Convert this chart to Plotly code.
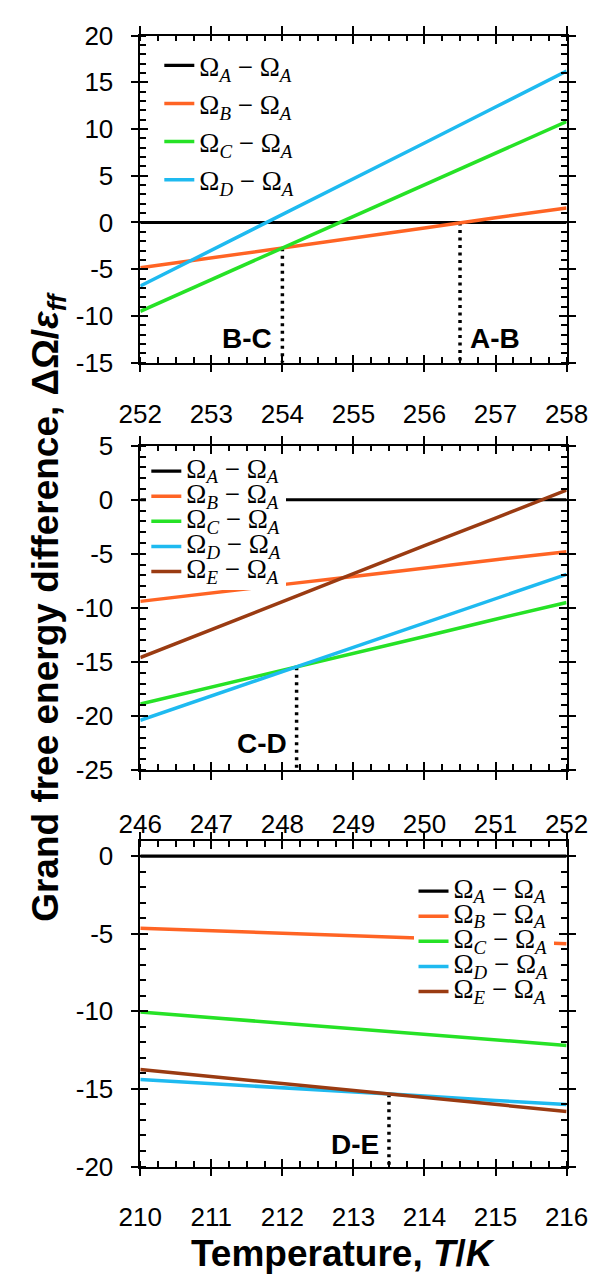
import plotly.graph_objects as go

# ---------------- data ----------------
# Panel 1 (top)
top_T = [252, 253, 254, 255, 256, 257, 258]
top_A = [0, 0, 0, 0, 0, 0, 0]
top_B = [-4.85, -3.8, -2.75, -1.7, -0.6, 0.5, 1.55]
top_C = [-9.5, -6.1, -2.75, 0.6, 4.0, 7.4, 10.8]
top_D = [-6.8, -3.0, 0.85, 4.7, 8.5, 12.35, 16.2]

# Panel 2 (middle)
mid_T = [246, 247, 248, 249, 250, 251, 252]
mid_A = [0, 0, 0, 0, 0, 0, 0]
mid_B = [-9.4, -8.6, -7.85, -7.1, -6.3, -5.55, -4.8]
mid_C = [-18.9, -17.35, -15.8, -14.2, -12.65, -11.05, -9.5]
mid_D = [-20.4, -18.15, -15.9, -13.65, -11.4, -9.15, -6.9]
mid_E = [-14.6, -12.0, -9.4, -6.85, -4.25, -1.7, 0.9]

# Panel 3 (bottom)
bot_T = [210, 211, 212, 213, 214, 215, 216]
bot_A = [0, 0, 0, 0, 0, 0, 0]
bot_B = [-4.65, -4.8, -4.98, -5.15, -5.3, -5.48, -5.65]
bot_C = [-10.05, -10.4, -10.75, -11.15, -11.5, -11.85, -12.2]
bot_D = [-14.4, -14.65, -14.95, -15.2, -15.45, -15.75, -16.0]
bot_E = [-13.75, -14.2, -14.65, -15.1, -15.55, -16.0, -16.45]

# transition markers (dotted drop lines)
bc_T = [254, 254];     bc_y = [-2.75, -15]
ab_T = [256.5, 256.5]; ab_y = [0, -15]
cd_T = [248.2, 248.2]; cd_y = [-15.5, -25]
de_T = [213.5, 213.5]; de_y = [-15.35, -20]

transition_labels = ["B-C", "A-B", "C-D", "D-E"]

# ticks
top_xticks = [252, 253, 254, 255, 256, 257, 258]
mid_xticks = [246, 247, 248, 249, 250, 251, 252]
bot_xticks = [210, 211, 212, 213, 214, 215, 216]
top_yticks = [-15, -10, -5, 0, 5, 10, 15, 20]
mid_yticks = [-25, -20, -15, -10, -5, 0, 5]
bot_yticks = [-20, -15, -10, -5, 0]

series_names = ["A", "B", "C", "D", "E"]
colors = {"A": "#000000", "B": "#FF6424", "C": "#26E226",
          "D": "#1EBAF0", "E": "#9A3B12"}

# ---------------- layout geometry ----------------
W, H = 609, 1288
xdom = [127.5 / W, 587 / W]
def ydom(top_px, bot_px):
    return [1 - bot_px / H, 1 - top_px / H]

fig = go.Figure()

panels = [
    dict(T=top_T, data={"A": top_A, "B": top_B, "C": top_C, "D": top_D},
         xa="x", ya="y", ov=("x4", "y4"), legend="legend",
         drops=[(bc_T, bc_y), (ab_T, ab_y)]),
    dict(T=mid_T, data={"A": mid_A, "B": mid_B, "C": mid_C, "D": mid_D, "E": mid_E},
         xa="x2", ya="y2", ov=("x5", "y5"), legend="legend2",
         drops=[(cd_T, cd_y)]),
    dict(T=bot_T, data={"A": bot_A, "B": bot_B, "C": bot_C, "D": bot_D, "E": bot_E},
         xa="x3", ya="y3", ov=("x6", "y6"), legend="legend3",
         drops=[(de_T, de_y)]),
]

def label(s, big):
    txt = "Ω<sub><i>%s</i></sub> − Ω<sub><i>A</i></sub>" % s
    if big:
        return '<span style="font-size:27px">' + txt + "</span>"
    return txt

for i, p in enumerate(panels):
    for dx, dy in p["drops"]:
        fig.add_trace(go.Scatter(x=dx, y=dy, mode="lines", xaxis=p["xa"], yaxis=p["ya"],
                                 line=dict(color="black", width=3.5, dash="3px,4.5px"),
                                 showlegend=False, hoverinfo="skip"))
    for s in series_names:
        if s not in p["data"]:
            continue
        fig.add_trace(go.Scatter(x=p["T"], y=p["data"][s], mode="lines",
                                 xaxis=p["xa"], yaxis=p["ya"],
                                 line=dict(color=colors[s], width=3.5 if s != "A" else 3.2),
                                 name=label(s, i > 0), legend=p["legend"]))
    # empty trace to activate overlay axes (inner halves of major ticks)
    fig.add_trace(go.Scatter(x=[None], y=[None], xaxis=p["ov"][0], yaxis=p["ov"][1],
                             showlegend=False, hoverinfo="skip"))

tickfont = dict(family="Liberation Sans, Arial, sans-serif", size=26, color="black")

def xaxis_main(rng, ticks, yanchor, standoff):
    return dict(range=rng, domain=xdom, anchor=yanchor, showline=True, linecolor="black",
                linewidth=1.5, mirror="allticks", ticks="outside", ticklen=8, tickwidth=1.5,
                tickcolor="black", tickmode="array", tickvals=ticks,
                ticktext=[str(t) for t in ticks], tickfont=tickfont,
                ticklabelstandoff=standoff, showgrid=False, zeroline=False,
                minor=dict(ticks="inside", ticklen=6, tickwidth=1.5, tickcolor="black",
                           tickmode="linear", tick0=0, dtick=0.25, showgrid=False))

def yaxis_main(rng, ticks, dom, xanchor):
    return dict(range=rng, domain=dom, anchor=xanchor, showline=True, linecolor="black",
                linewidth=1.5, mirror="allticks", ticks="outside", ticklen=8, tickwidth=1.5,
                tickcolor="black", tickmode="array", tickvals=ticks,
                ticktext=[str(t) for t in ticks], tickfont=tickfont,
                ticklabelstandoff=12, showgrid=False, zeroline=False,
                minor=dict(ticks="inside", ticklen=6, tickwidth=1.5, tickcolor="black",
                           tickmode="linear", tick0=0, dtick=1, showgrid=False))

def x_overlay(rng, ticks, over, yanchor):
    return dict(range=rng, overlaying=over, anchor=yanchor, showline=False,
                mirror="allticks", ticks="inside", ticklen=8, tickwidth=1.5,
                tickcolor="black", tickmode="array", tickvals=ticks,
                showticklabels=False, showgrid=False, zeroline=False)

def y_overlay(rng, ticks, over, xanchor):
    return dict(range=rng, overlaying=over, anchor=xanchor, showline=False,
                mirror="allticks", ticks="inside", ticklen=8, tickwidth=1.5,
                tickcolor="black", tickmode="array", tickvals=ticks,
                showticklabels=False, showgrid=False, zeroline=False)

top_xr, mid_xr, bot_xr = [252, 258], [246, 252], [210, 216]
top_yr, mid_yr, bot_yr = [-15, 20], [-25, 5], [-20, 0.95]
top_yd, mid_yd, bot_yd = ydom(21, 356), ydom(441, 773), ydom(846, 1179)

fig.update_layout(
    xaxis=xaxis_main(top_xr, top_xticks, "y", 19),
    yaxis=yaxis_main(top_yr, top_yticks, top_yd, "x"),
    xaxis2=xaxis_main(mid_xr, mid_xticks, "y2", 22),
    yaxis2=yaxis_main(mid_yr, mid_yticks, mid_yd, "x2"),
    xaxis3=xaxis_main(bot_xr, bot_xticks, "y3", 19),
    yaxis3=yaxis_main(bot_yr, bot_yticks, bot_yd, "x3"),
    xaxis4=x_overlay(top_xr, top_xticks, "x", "y4"),
    yaxis4=y_overlay(top_yr, top_yticks, "y", "x4"),
    xaxis5=x_overlay(mid_xr, mid_xticks, "x2", "y5"),
    yaxis5=y_overlay(mid_yr, mid_yticks, "y2", "x5"),
    xaxis6=x_overlay(bot_xr, bot_xticks, "x3", "y6"),
    yaxis6=y_overlay(bot_yr, bot_yticks, "y3", "x6"),
)

legfont_big = dict(family="Liberation Serif, Times New Roman, serif", size=27, color="black")
legfont_small = dict(family="Liberation Serif, Times New Roman, serif", size=17, color="black")

fig.update_layout(
    width=W, height=H, margin=dict(l=0, r=0, t=0, b=0),
    paper_bgcolor="white", plot_bgcolor="white",
    showlegend=True,
    legend=dict(x=148 / W, y=1 - 27 / H, xanchor="left", yanchor="top",
                bgcolor="rgba(255,255,255,1)", borderwidth=0, font=legfont_big,
                tracegroupgap=0, itemwidth=30),
    legend2=dict(x=134 / W, y=1 - 449 / H, xanchor="left", yanchor="top",
                 bgcolor="rgba(255,255,255,1)", borderwidth=0, font=legfont_small,
                 tracegroupgap=0, itemwidth=30),
    legend3=dict(x=422 / W, y=1 - 879 / H, xanchor="left", yanchor="top",
                 bgcolor="rgba(255,255,255,1)", borderwidth=0, font=legfont_small,
                 tracegroupgap=0, itemwidth=30),
)

lab_font = dict(family="Liberation Sans, Arial, sans-serif", size=28, color="black", weight="bold")
anns = [
    dict(x=bc_T[0], y=-12.4, xref="x", yref="y", text=transition_labels[0],
         xanchor="right", xshift=-8),
    dict(x=ab_T[0], y=-12.4, xref="x", yref="y", text=transition_labels[1],
         xanchor="left", xshift=8),
    dict(x=cd_T[0], y=-22.55, xref="x2", yref="y2", text=transition_labels[2],
         xanchor="right", xshift=-8),
    dict(x=de_T[0], y=-18.55, xref="x3", yref="y3", text=transition_labels[3],
         xanchor="right", xshift=-8),
]
for a in anns:
    a.update(showarrow=False, yanchor="middle", font=lab_font)
    fig.add_annotation(**a)

title_font = dict(family="Liberation Sans, Arial, sans-serif", size=37, color="black", weight="bold")
fig.add_annotation(x=28 / W, y=1 - 606 / H, xref="paper", yref="paper",
                   text="Grand free energy difference, ΔΩ/<i>ε</i><sub><i>ff</i></sub>",
                   textangle=-90, showarrow=False, xanchor="center", yanchor="middle",
                   font=title_font)
fig.add_annotation(x=346 / W, y=1 - 1268 / H, xref="paper", yref="paper",
                   text="Temperature, <i>T</i>/<i>K</i>",
                   showarrow=False, xanchor="center", yanchor="middle", font=title_font)

fig.write_html("out.html")
